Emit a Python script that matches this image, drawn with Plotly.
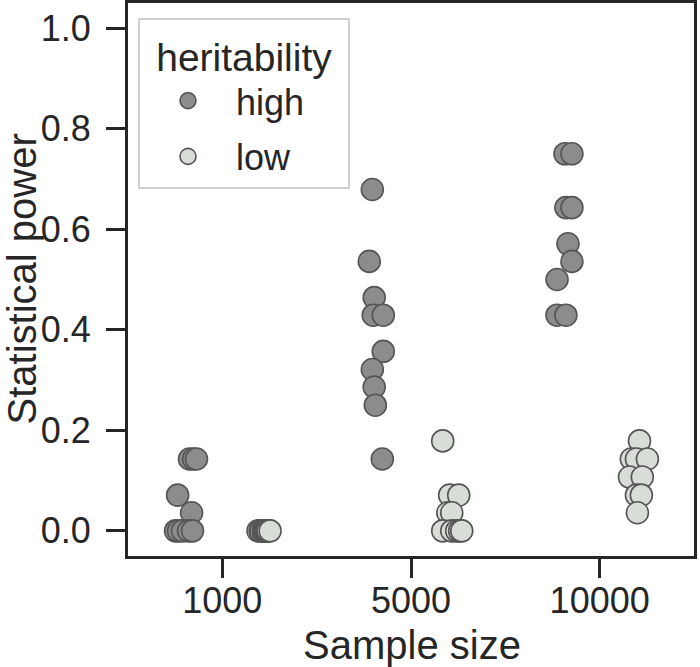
import plotly.graph_objects as go

# ---- data ----
sample_sizes = ["1000", "5000", "10000"]
hue_levels = ["high", "low"]

power_1000_high = [0.143, 0.143, 0.143, 0.071, 0.036, 0.0, 0.0, 0.0, 0.0, 0.0]
power_1000_low = [0.0, 0.0, 0.0, 0.0, 0.0, 0.0, 0.0, 0.0, 0.0, 0.0]
power_5000_high = [0.679, 0.536, 0.464, 0.429, 0.429, 0.357, 0.321, 0.286, 0.25, 0.143]
power_5000_low = [0.179, 0.071, 0.071, 0.036, 0.036, 0.0, 0.0, 0.0, 0.0, 0.0]
power_10000_high = [0.75, 0.75, 0.643, 0.643, 0.571, 0.536, 0.5, 0.429, 0.429]
power_10000_low = [0.179, 0.143, 0.143, 0.143, 0.107, 0.107, 0.071, 0.071, 0.036]

# horizontal strip jitter (category units)
jit_1000_high = [0.026, 0.048, 0.063, -0.037, 0.037, -0.048, -0.032, -0.011, 0.021, 0.042]
jit_1000_low = [-0.011, 0.0, 0.005, 0.016, 0.021, 0.026, 0.032, 0.037, 0.042, 0.053]
jit_5000_high = [-0.005, -0.021, 0.005, 0.0, 0.053, 0.053, -0.005, 0.005, 0.011, 0.048]
jit_5000_low = [-0.032, 0.005, 0.053, -0.005, 0.016, -0.032, 0.016, 0.042, 0.058, 0.069]
jit_10000_high = [0.016, 0.053, 0.021, 0.053, 0.032, 0.053, -0.026, -0.026, 0.021]
jit_10000_low = [0.011, -0.032, -0.005, 0.053, -0.042, 0.026, -0.005, 0.021, 0.0]

values = {
    "high": [power_1000_high, power_5000_high, power_10000_high],
    "low": [power_1000_low, power_5000_low, power_10000_low],
}
jitters = {
    "high": [jit_1000_high, jit_5000_high, jit_10000_high],
    "low": [jit_1000_low, jit_5000_low, jit_10000_low],
}
colors = {"high": "#8c8c8c", "low": "#d9ddd8"}
dodge = {"high": -0.2, "low": 0.2}

FONT = "Liberation Sans, Arial, sans-serif"
INK = "#262626"

W, H = 700, 667
ML, MR, MT, MB = 128, 6, 3, 111
PW = W - ML - MR
PH = H - MT - MB

fig = go.Figure()
for h in hue_levels:
    xs, ys = [], []
    for ci, (vals, jit) in enumerate(zip(values[h], jitters[h])):
        for v, j in zip(vals, jit):
            xs.append(ci + dodge[h] + j)
            ys.append(v)
    fig.add_trace(go.Scatter(
        x=xs, y=ys, mode="markers", name=h, legendgroup=h,
        marker=dict(size=22, color=colors[h], line=dict(color="#555555", width=1.6)),
    ))

legend_title = "\u00a0\u200aheritability\u200a\u00a0"

fig.update_layout(
    width=W, height=H,
    margin=dict(l=ML, r=MR, t=MT, b=MB, autoexpand=False),
    plot_bgcolor="white", paper_bgcolor="white",
    font=dict(family=FONT, color=INK, size=36),
    showlegend=True,
    legend=dict(
        title=dict(text=legend_title, font=dict(size=39), side="top center"),
        font=dict(size=36),
        x=10 / PW, y=1 - 15 / PH, xanchor="left", yanchor="top",
        bordercolor="#d0d0d0", borderwidth=2, bgcolor="rgba(255,255,255,0.8)",
        itemsizing="trace", itemwidth=86, tracegroupgap=6,
    ),
    xaxis=dict(
        range=[-0.5, 2.5], tickmode="array", tickvals=[0, 1, 2], ticktext=sample_sizes,
        showline=True, linewidth=3, linecolor=INK, mirror=True,
        ticks="outside", ticklen=19, tickwidth=2.5, tickcolor=INK,
        tickfont=dict(size=36), showgrid=False, zeroline=False, automargin=False,
        ticklabelstandoff=-8,
    ),
    yaxis=dict(
        range=[-0.05, 1.05], tickmode="array", tickvals=[0, 0.2, 0.4, 0.6, 0.8, 1.0],
        tickformat=".1f",
        showline=True, linewidth=3, linecolor=INK, mirror=True,
        ticks="outside", ticklen=19, tickwidth=2.5, tickcolor=INK,
        tickfont=dict(size=36), showgrid=False, zeroline=False, automargin=False,
        ticklabelstandoff=8,
    ),
    annotations=[
        dict(text="Statistical power", textangle=-90, xref="paper", yref="paper",
             x=(21 - ML) / PW, y=0.5, xanchor="center", yanchor="middle",
             showarrow=False, font=dict(size=40, color=INK, family=FONT)),
        dict(text="Sample size", xref="paper", yref="paper",
             x=(412 - ML) / PW, y=-(645 - MT - PH) / PH, xanchor="center", yanchor="middle",
             showarrow=False, font=dict(size=40, color=INK, family=FONT)),
    ],
)

fig.write_html("out.html", config={"displayModeBar": False},
               post_script="document.body.style.margin='0';")
